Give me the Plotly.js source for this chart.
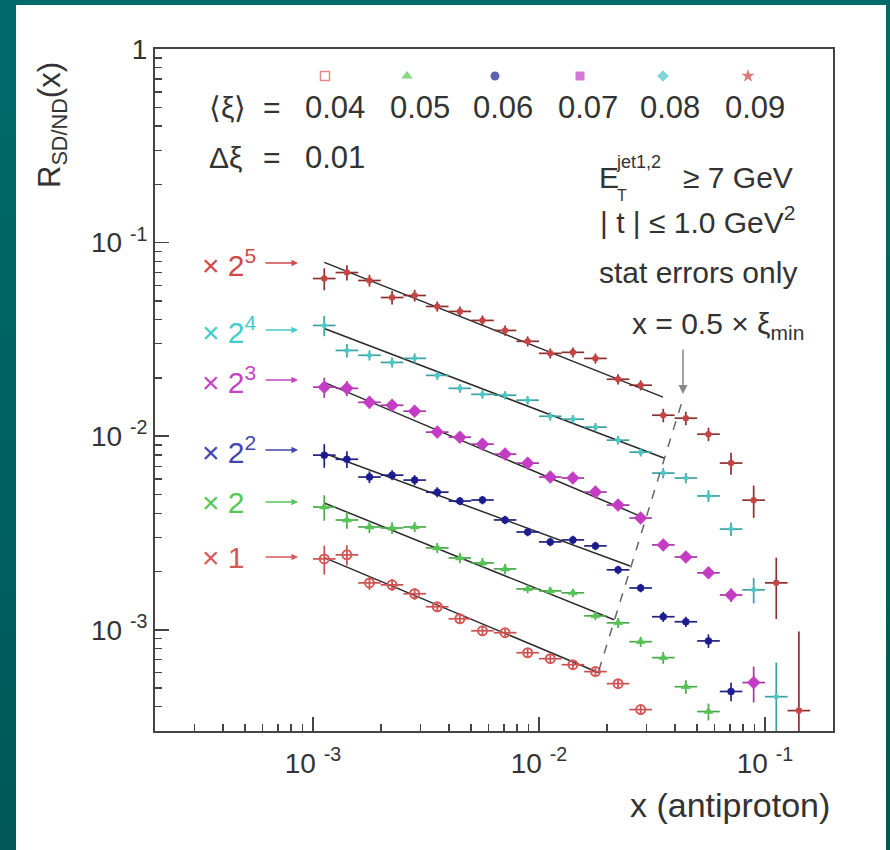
<!DOCTYPE html>
<html>
<head>
<meta charset="utf-8">
<script src="https://cdn.plot.ly/plotly-3.0.1.min.js"></script>
<style>
  html, body { margin:0; padding:0; width:890px; height:850px; overflow:hidden; }
  #bg { position:absolute; left:0; top:0; width:890px; height:850px;
        background: linear-gradient(to bottom, #006a6a 0%, #005858 100%); }
  #panel { position:absolute; left:16px; top:5px; width:870px; height:845px; background:#ffffff; }
  #chart { position:absolute; left:0; top:0; width:890px; height:850px; }
</style>
</head>
<body>
<div id="bg"></div>
<div id="panel"></div>
<div id="chart"></div>
<script>
// ---------------- DATA ----------------
// x bins (antiproton x), 10 bins per decade
const xBinEdges = [0.001, 0.001259, 0.001585, 0.001995, 0.002512, 0.003162, 0.003981, 0.005012,
  0.00631, 0.007943, 0.01, 0.01259, 0.01585, 0.01995, 0.02512, 0.03162, 0.03981, 0.05012,
  0.0631, 0.07943, 0.1, 0.1259, 0.1585];
const xCenters = [0.001122, 0.001413, 0.001778, 0.002239, 0.002818, 0.003548, 0.004467, 0.005623,
  0.007079, 0.008913, 0.01122, 0.01413, 0.01778, 0.02239, 0.02818, 0.03548, 0.04467, 0.05623,
  0.07079, 0.08913, 0.1122, 0.1413];

const xiLabels = ['0.04', '0.05', '0.06', '0.07', '0.08', '0.09'];
const scaleFactors = [1, 2, 4, 8, 16, 32];
const scaleLabels = ['× 1', '× 2', '× 2<sup>2</sup>', '× 2<sup>3</sup>', '× 2<sup>4</sup>', '× 2<sup>5</sup>'];

// R_SD/ND(x), unscaled
const R_xi004 = [2.323e-3, 2.438e-3, 1.746e-3, 1.706e-3, 1.535e-3, 1.315e-3, 1.140e-3, 0.988e-3,
  0.966e-3, 0.761e-3, 0.709e-3, 0.660e-3, 0.608e-3, 0.527e-3, 0.387e-3];
const R_xi005 = [2.152e-3, 1.845e-3, 1.698e-3, 1.678e-3, 1.698e-3, 1.324e-3, 1.175e-3, 1.107e-3,
  1.031e-3, 0.813e-3, 0.794e-3, 0.776e-3, 0.590e-3, 0.543e-3, 0.434e-3, 0.359e-3, 0.254e-3, 0.189e-3];
const R_xi006 = [1.995e-3, 1.900e-3, 1.538e-3, 1.573e-3, 1.483e-3, 1.285e-3, 1.156e-3, 1.170e-3,
  0.923e-3, 0.800e-3, 0.711e-3, 0.728e-3, 0.678e-3, 0.510e-3, 0.411e-3, 0.292e-3, 0.275e-3, 0.219e-3, 0.120e-3];
const R_xi007 = [2.239e-3, 2.208e-3, 1.870e-3, 1.806e-3, 1.683e-3, 1.312e-3, 1.235e-3, 1.137e-3,
  1.010e-3, 0.907e-3, 0.769e-3, 0.760e-3, 0.643e-3, 0.551e-3, 0.472e-3, 0.343e-3, 0.297e-3, 0.246e-3, 0.189e-3, 0.0667e-3];
const R_xi008 = [2.333e-3, 1.733e-3, 1.636e-3, 1.503e-3, 1.577e-3, 1.288e-3, 1.104e-3, 1.028e-3,
  1.017e-3, 0.959e-3, 0.792e-3, 0.765e-3, 0.696e-3, 0.596e-3, 0.517e-3, 0.403e-3, 0.380e-3, 0.307e-3, 0.207e-3, 0.1005e-3, 0.0282e-3];
const R_xi009 = [2.038e-3, 2.188e-3, 1.991e-3, 1.626e-3, 1.666e-3, 1.462e-3, 1.378e-3, 1.238e-3,
  1.099e-3, 0.966e-3, 0.837e-3, 0.847e-3, 0.788e-3, 0.615e-3, 0.573e-3, 0.401e-3, 0.387e-3, 0.320e-3, 0.227e-3, 0.146e-3, 0.0546e-3, 0.01195e-3];

// relative statistical errors
const relErr_xi004 = [0.17, 0.12, 0.08, 0.07, 0.07, 0.06, 0.06, 0.06, 0.06, 0.05, 0.05, 0.05, 0.05, 0.05, 0.06];
const relErr_xi005 = [0.15, 0.10, 0.07, 0.07, 0.06, 0.06, 0.06, 0.06, 0.06, 0.05, 0.05, 0.05, 0.05, 0.06, 0.06, 0.07, 0.08, 0.10];
const relErr_xi006 = [0.14, 0.10, 0.07, 0.06, 0.06, 0.06, 0.05, 0.05, 0.05, 0.05, 0.05, 0.05, 0.05, 0.05, 0.05, 0.06, 0.06, 0.08, 0.11];
const relErr_xi007 = [0.12, 0.09, 0.07, 0.06, 0.06, 0.05, 0.05, 0.05, 0.05, 0.05, 0.05, 0.05, 0.05, 0.05, 0.05, 0.05, 0.06, 0.06, 0.08, 0.21];
const relErr_xi008 = [0.12, 0.08, 0.06, 0.06, 0.06, 0.05, 0.05, 0.05, 0.05, 0.05, 0.05, 0.05, 0.05, 0.05, 0.05, 0.06, 0.06, 0.07, 0.08, 0.15, 0.50];
const relErr_xi009 = [0.13, 0.09, 0.07, 0.08, 0.07, 0.06, 0.06, 0.06, 0.06, 0.06, 0.06, 0.06, 0.06, 0.06, 0.06, 0.08, 0.08, 0.08, 0.13, 0.19, 0.35, 1.56];

// power-law fit lines (unscaled), start/end
const fitX0 = [0.001122, 0.001122, 0.001122, 0.001122, 0.001122, 0.001122];
const fitY0 = [2.36e-3, 2.26e-3, 2.04e-3, 2.37e-3, 2.25e-3, 2.47e-3];
const fitX1 = [0.0184, 0.0215, 0.0253, 0.0294, 0.0357, 0.0354];
const fitY1 = [0.600e-3, 0.563e-3, 0.534e-3, 0.472e-3, 0.482e-3, 0.497e-3];

// x = 0.5 * xi_min cut line (as drawn, scaled)
const cutX = [0.0184, 0.0434];
const cutY = [6.15e-4, 1.57e-2];

const xTickVals = [1e-3, 1e-2, 1e-1];
const xTickText = ['10 <sup>-3</sup>', '10 <sup>-2</sup>', '10 <sup>-1</sup>'];
const yTickVals = [1e-3, 1e-2, 1e-1, 1];
const yTickText = ['10 <sup>-3</sup>', '10 <sup>-2</sup>', '10 <sup>-1</sup>', '1'];

// ---------------- STYLE ----------------
const R_all = [R_xi004, R_xi005, R_xi006, R_xi007, R_xi008, R_xi009];
const E_all = [relErr_xi004, relErr_xi005, relErr_xi006, relErr_xi007, relErr_xi008, relErr_xi009];
const colors = ['#d65858', '#55c455', '#1c1c90', '#c43cc4', '#4cc6c6', '#c84444'];
const barColors = ['#c85050', '#4aa84a', '#202080', '#a03aa0', '#3aa0a0', '#8a3030'];
const labelColors = ['#d65a5a', '#55c855', '#4444b0', '#c444c4', '#44cccc', '#d04848'];
const symbols = ['circle-open', 'triangle-up', 'circle', 'diamond', 'diamond', 'circle'];
const msizes = [9, 8, 7, 10, 5, 6];
const legendSymbols = ['square-open', 'triangle-up', 'circle', 'square', 'diamond', 'star'];
const FONT = 'Liberation Sans, Arial, Helvetica, sans-serif';
const TXT = '#333333';

// plot area geometry (pixels) for placing text
const P = {l: 155, t: 49, w: 678, h: 682};
const px = x => (x - P.l) / P.w;
const py = y => (P.t + P.h - y) / P.h;

const traces = [];
for (let s = 0; s < 6; s++) {
  const R = R_all[s], E = E_all[s], f = scaleFactors[s];
  const n = R.length;
  const xs = xCenters.slice(0, n);
  const ys = R.map(v => v * f);
  const ey = R.map((v, i) => v * f * E[i]);
  const exPlus = xs.map((x, i) => xBinEdges[i + 1] - x);
  const exMinus = xs.map((x, i) => x - xBinEdges[i]);
  traces.push({
    x: [fitX0[s], fitX1[s]], y: [fitY0[s] * f, fitY1[s] * f],
    mode: 'lines', line: {color: '#2a2a2a', width: 1.5},
    hoverinfo: 'skip', showlegend: false
  });
  traces.push({
    x: xs, y: ys, mode: 'markers', showlegend: false, name: xiLabels[s],
    marker: {symbol: symbols[s], size: msizes[s], color: colors[s],
             line: {color: colors[s], width: symbols[s].indexOf('open') >= 0 ? 2 : 0.5}},
    error_y: {type: 'data', array: ey, visible: true, thickness: 1.7, width: 0, color: barColors[s]},
    error_x: {type: 'data', symmetric: false, array: exPlus, arrayminus: exMinus, visible: true,
              thickness: 1.7, width: 0, color: barColors[s]}
  });
}
// cut line
traces.push({x: cutX, y: cutY, mode: 'lines', line: {color: '#666', width: 1.5, dash: 'dash'},
  showlegend: false, hoverinfo: 'skip'});
// legend markers on overlay axes
traces.push({
  x: [325, 407, 495, 580, 663, 748].map(px), y: [76, 76, 76, 76, 76, 76].map(py),
  xaxis: 'x2', yaxis: 'y2', mode: 'markers', showlegend: false, hoverinfo: 'skip',
  marker: {symbol: legendSymbols, size: [9, 10, 9, 9, 9, 10], color: colors,
           line: {color: colors, width: [1.5, 0, 0, 0, 0, 0]}}
});

function minorVals(lo, hi) {
  const v = [];
  for (let e = -5; e <= 0; e++) for (let m = 2; m <= 9; m++) {
    const t = m * Math.pow(10, e);
    if (t > lo * 1.0001 && t < hi * 0.9999) v.push(t);
  }
  return v;
}

const annotations = [];
function txt(text, x, y, size, color, xanchor, extra) {
  annotations.push(Object.assign({
    text: text, xref: 'paper', yref: 'paper', x: px(x), y: py(y),
    xanchor: xanchor || 'center', yanchor: 'middle', showarrow: false,
    font: {family: FONT, size: size, color: color || TXT}
  }, extra || {}));
}

// header block
txt('⟨ξ⟩', 227, 107, 30);
txt('=', 272, 107, 30);
const hdrX = [335, 420, 503, 588, 670, 755];
xiLabels.forEach((l, i) => txt(l, hdrX[i], 107, 31));
txt('Δξ', 225, 157, 30);
txt('=', 272, 157, 30);
txt('0.01', 335, 157, 31);

// right block
txt('E', 597, 177, 30, TXT, 'left');
txt('jet1,2', 614, 162, 18, TXT, 'left');
txt('T', 615, 195, 16, TXT, 'left');
txt('≥ 7 GeV', 681, 177, 30, TXT, 'left');
txt('| t | ≤ 1.0 GeV<sup>2</sup>', 598, 220, 30, TXT, 'left');
txt('stat errors only', 597, 272, 30, TXT, 'left');
txt('x = 0.5 × ξ<sub>min</sub>', 630, 325, 30, TXT, 'left');
// arrow to cut line
annotations.push({xref: 'paper', yref: 'paper', x: px(683), y: py(394), ax: 0, ay: -46,
  text: '', showarrow: true, arrowhead: 2, arrowsize: 1.2, arrowwidth: 1.5, arrowcolor: '#888'});

// multiplier labels
const multY = [557, 502, 450, 380, 330, 263];
for (let s = 0; s < 6; s++) {
  txt(scaleLabels[s], 200, multY[s], 30, labelColors[s], 'left');
  annotations.push({xref: 'paper', yref: 'paper', x: px(298), y: py(multY[s]), ax: -34, ay: 0,
    text: '', showarrow: true, arrowhead: 2, arrowsize: 1, arrowwidth: 1.3, arrowcolor: labelColors[s]});
}

// axis titles
txt('R<sub>SD/ND</sub>(x)', 52, 125, 31, TXT, 'center', {textangle: -90});
txt('x (antiproton)', 832, 805, 34, TXT, 'right');

const axisCommon = {
  type: 'log', showgrid: false, zeroline: false,
  showline: true, linecolor: '#444', linewidth: 2, mirror: true,
  ticks: 'inside', ticklen: 14, tickwidth: 1.5, tickcolor: '#444',
  tickmode: 'array',
  tickfont: {family: FONT, size: 28, color: TXT}
};

const layout = {
  width: 890, height: 850,
  margin: {l: 155, r: 57, t: 49, b: 119},
  paper_bgcolor: 'rgba(0,0,0,0)', plot_bgcolor: 'rgba(0,0,0,0)',
  showlegend: false,
  xaxis: Object.assign({}, axisCommon, {
    range: [Math.log10(2e-4), Math.log10(0.2)],
    tickvals: xTickVals, ticktext: xTickText, ticklabelstandoff: 6,
    minor: {tickmode: 'array', tickvals: minorVals(2e-4, 0.2), ticks: 'inside', ticklen: 7,
            tickwidth: 1.3, tickcolor: '#444', showgrid: false}
  }),
  yaxis: Object.assign({}, axisCommon, {
    range: [Math.log10(3e-4), 0],
    tickvals: yTickVals, ticktext: yTickText,
    minor: {tickmode: 'array', tickvals: minorVals(3e-4, 1), ticks: 'inside', ticklen: 7,
            tickwidth: 1.3, tickcolor: '#444', showgrid: false}
  }),
  xaxis2: {overlaying: 'x', anchor: 'y2', range: [0, 1], visible: false, fixedrange: true},
  yaxis2: {overlaying: 'y', anchor: 'x2', range: [0, 1], visible: false, fixedrange: true},
  annotations: annotations,
  font: {family: FONT, color: TXT}
};

Plotly.newPlot('chart', traces, layout, {displayModeBar: false, staticPlot: true});
</script>
</body>
</html>
